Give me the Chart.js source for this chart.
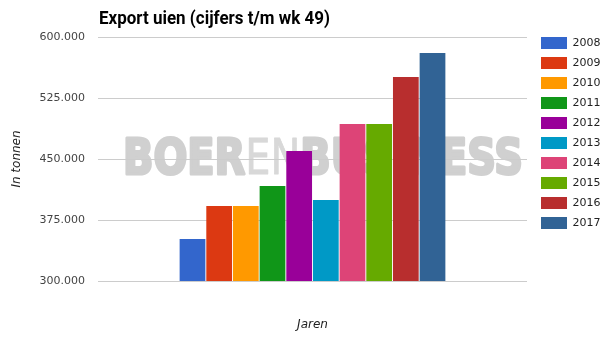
<!DOCTYPE html>
<html><head><meta charset="utf-8">
<script src="https://cdn.jsdelivr.net/npm/chart.js@4/dist/chart.umd.min.js"></script>
<style>html,body{margin:0;padding:0;background:#fff;overflow:hidden}#wrap{position:relative;width:615px;height:337px}</style>
</head><body><div id="wrap"><canvas id="c" width="615" height="337"></canvas></div>
<script>
const chartTitle = 'Export uien (cijfers t/m wk 49)';
const years = ['2008', '2009', '2010', '2011', '2012', '2013', '2014', '2015', '2016', '2017'];
const exportTonnes = [351600, 392200, 392200, 416800, 459800, 399600, 493000, 493000, 550800, 580300];
const yTicks = [300000, 375000, 450000, 525000, 600000];
const yAxisTitle = 'In tonnen';
const xAxisTitle = 'Jaren';
const categories = [''];
const watermarkParts = ['BOER', 'EN', 'BUSINESS'];

const seriesColors = ['#3366cc', '#dc3912', '#ff9900', '#109618', '#990099', '#0099c6', '#dd4477', '#66aa00', '#b82e2e', '#316395'];

function fmt(v) { return String(v).replace(/\B(?=(\d{3})+(?!\d))/g, '.'); }

const datasets = years.map((y, i) => ({
  label: y,
  data: [exportTonnes[i]],
  backgroundColor: seriesColors[i],
  borderWidth: 0,
  categoryPercentage: 0.6216,
  barPercentage: 0.965
}));

const watermark = {
  id: 'watermark',
  beforeDraw(chart) {
    const ctx = chart.ctx, a = chart.chartArea;
    ctx.save();
    const bold = [true, false, true];
    const fonts = watermarkParts.map((p, i) => (bold[i] ? 'bold ' : '') + '49px "DejaVu Sans"');
    const widths = watermarkParts.map((p, i) => { ctx.font = fonts[i]; return ctx.measureText(p).width; });
    const total = widths.reduce((s, w) => s + w, 0);
    const x0 = a.left + 25, x1 = a.right - 4;
    ctx.translate(x0, 174);
    ctx.scale((x1 - x0) / total, 1);
    ctx.textBaseline = 'alphabetic';
    ctx.lineJoin = 'round';
    let x = 0;
    watermarkParts.forEach((p, i) => {
      ctx.font = fonts[i];
      const col = bold[i] ? '#d0d0d0' : '#d8d8d8';
      ctx.fillStyle = col;
      ctx.strokeStyle = col;
      ctx.lineWidth = bold[i] ? 3 : 0.8;
      ctx.fillText(p, x, 0);
      ctx.strokeText(p, x, 0);
      x += widths[i];
    });
    ctx.restore();
  }
};

const titleDraw = {
  id: 'titleDraw',
  afterDraw(chart) {
    const ctx = chart.ctx;
    ctx.save();
    ctx.font = 'bold 19px Roboto, "Liberation Sans", sans-serif';
    const w = ctx.measureText(chartTitle).width;
    const target = 231;
    ctx.translate(99, 24);
    ctx.scale(Math.min(1.1, target / w), 1);
    ctx.fillStyle = '#000';
    ctx.textBaseline = 'alphabetic';
    ctx.fillText(chartTitle, 0, 0);
    ctx.restore();
  }
};

new Chart(document.getElementById('c'), {
  type: 'bar',
  data: { labels: categories, datasets },
  plugins: [watermark, titleDraw],
  options: {
    responsive: false,
    animation: false,
    devicePixelRatio: 1,
    layout: { padding: { top: 29, right: 4.5, bottom: 0, left: 0 } },
    plugins: {
      title: { display: true, text: '', padding: { top: 8, bottom: 0 }, font: { size: 1, lineHeight: 0 } },
      tooltip: { enabled: false },
      legend: {
        position: 'right',
        align: 'start',
        labels: {
          boxWidth: 26,
          boxHeight: 12,
          padding: 8,
          color: '#222',
          font: { family: '"DejaVu Sans"', size: 11 }
        }
      }
    },
    scales: {
      x: {
        grid: { display: false, drawTicks: false },
        border: { display: false },
        ticks: { display: false },
        title: { display: true, text: xAxisTitle, color: '#222', font: { family: '"DejaVu Sans"', size: 12, style: 'italic' }, padding: { top: 36.8, bottom: 4.8 } },
        afterFit(s) { s.height = 56; }
      },
      y: {
        position: 'left',
        min: yTicks[0],
        max: yTicks[yTicks.length - 1],
        afterBuildTicks(s) { s.ticks = yTicks.map(v => ({ value: v })); },
        grid: { color: '#cccccc', lineWidth: 1, drawTicks: false },
        border: { display: false },
        ticks: { padding: 13, color: '#444', font: { family: '"DejaVu Sans"', size: 11 }, callback: v => fmt(v) },
        title: { display: true, text: yAxisTitle, color: '#222', font: { family: '"DejaVu Sans"', size: 12, style: 'italic' }, padding: { top: 10, bottom: 0 } },
        afterFit(s) { s.width = 98; }
      },
      yPad: {
        type: 'linear',
        position: 'right',
        display: true,
        grid: { display: false, drawTicks: false },
        border: { display: false },
        ticks: { display: false },
        afterFit(s) { s.width = 6; }
      }
    }
  }
});
</script>
</body></html>
